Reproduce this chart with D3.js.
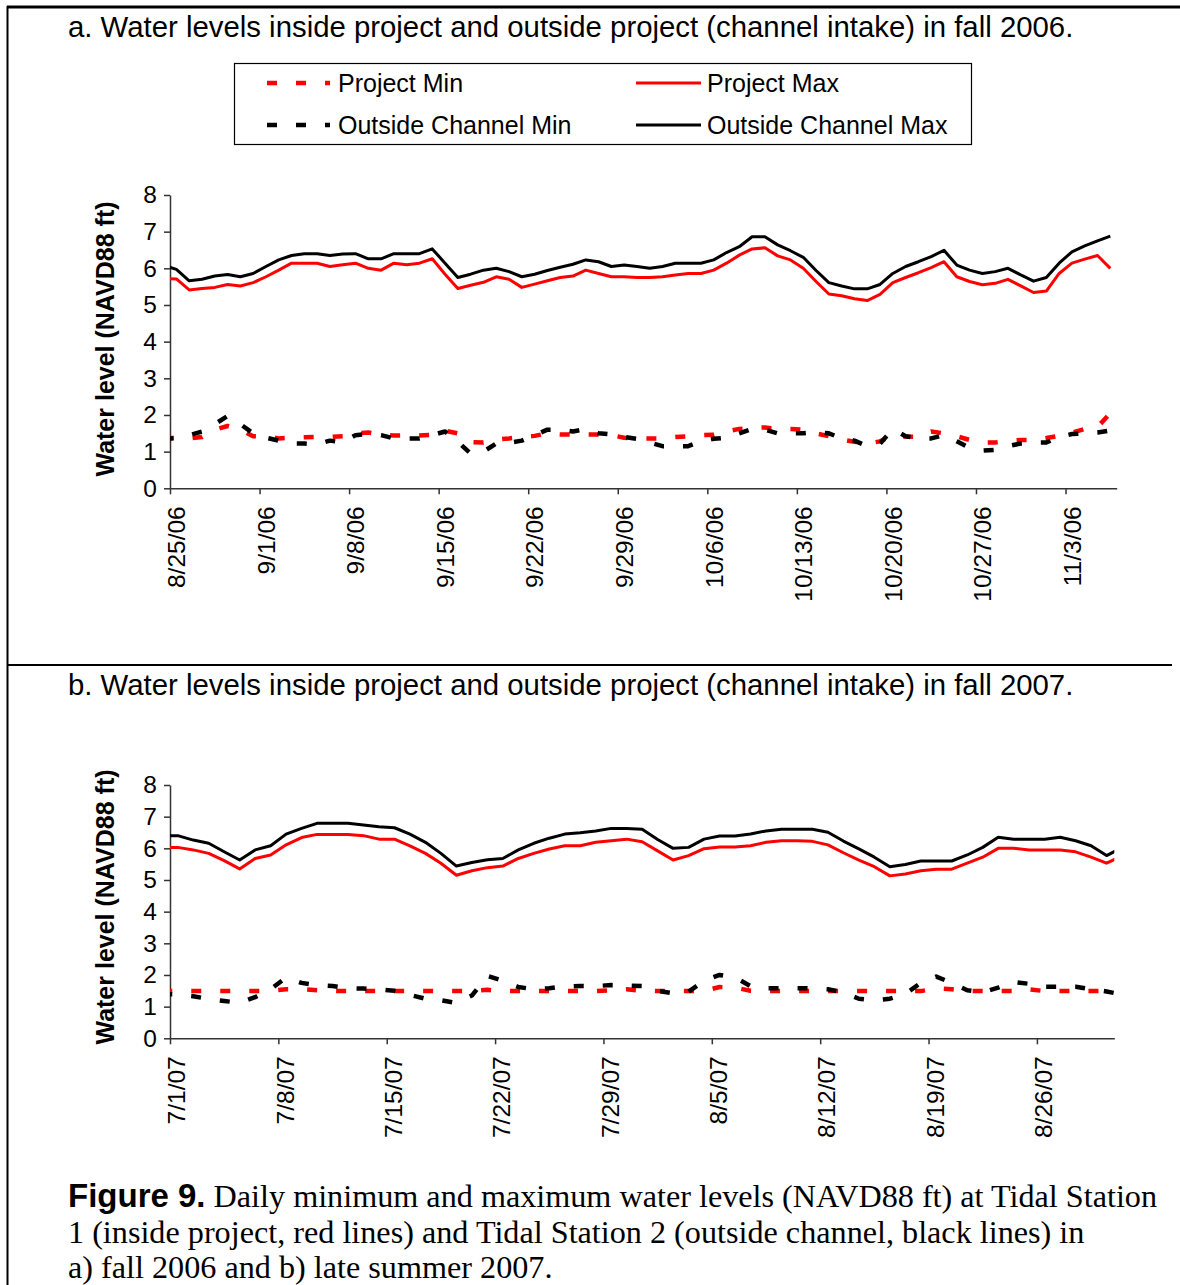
<!DOCTYPE html>
<html><head><meta charset="utf-8">
<script src="https://cdn.jsdelivr.net/npm/d3@7"></script>
<style>body{margin:0;background:#fff} svg{display:block}</style>
</head><body>
<svg id="c" width="1180" height="1285"></svg>
<script>
// ---------------- DATA ----------------
// Panel a: fall 2006 — first value is 8/24/06 (clipped at axis start), then daily to 11/6/06
const startA = "2006-08-24";
const projectMinA = [1.37,1.37,1.36,1.40,1.60,1.70,1.60,1.42,1.42,1.36,1.38,1.39,1.40,1.40,1.42,1.50,1.52,1.46,1.44,1.44,1.44,1.46,1.57,1.50,1.26,1.25,
  1.33,1.36,1.40,1.43,1.50,1.47,1.47,1.47,1.47,1.45,1.38,1.36,1.36,1.36,1.40,1.42,1.45,1.46,1.55,1.62,1.65,1.66,1.62,1.62,1.60,
  1.50,1.42,1.33,1.27,1.22,1.28,1.45,1.41,1.40,1.55,1.50,1.42,1.32,1.25,1.25,1.30,1.32,1.32,1.37,1.43,1.52,1.62,1.67,2.05];
const projectMaxA = [5.72,5.71,5.41,5.45,5.48,5.56,5.52,5.61,5.77,5.95,6.14,6.14,6.14,6.05,6.10,6.14,6.00,5.95,6.14,6.10,6.14,6.26,5.84,5.45,5.54,5.62,
  5.77,5.70,5.48,5.57,5.66,5.75,5.79,5.95,5.86,5.77,5.77,5.75,5.75,5.77,5.82,5.86,5.86,5.95,6.14,6.36,6.53,6.56,6.34,6.23,6.00,
  5.64,5.30,5.25,5.17,5.12,5.29,5.61,5.75,5.88,6.02,6.18,5.77,5.64,5.55,5.59,5.70,5.52,5.34,5.38,5.86,6.14,6.25,6.35,6.00];
const outsideMinA = [1.35,1.37,1.45,1.55,1.75,1.97,1.75,1.50,1.38,1.30,1.22,1.22,1.20,1.30,1.25,1.45,1.48,1.45,1.36,1.36,1.36,1.45,1.55,1.27,0.95,1.00,
  1.22,1.24,1.30,1.45,1.60,1.60,1.55,1.62,1.50,1.47,1.40,1.35,1.25,1.15,1.15,1.15,1.28,1.35,1.38,1.50,1.62,1.60,1.50,1.50,1.50,
  1.53,1.50,1.36,1.30,1.15,1.22,1.62,1.42,1.36,1.36,1.45,1.28,1.10,1.03,1.05,1.15,1.22,1.25,1.25,1.40,1.48,1.50,1.52,1.58];
const outsideMaxA = [6.08,5.97,5.66,5.70,5.79,5.83,5.77,5.86,6.05,6.23,6.35,6.40,6.40,6.35,6.39,6.40,6.26,6.26,6.40,6.40,6.40,6.53,6.14,5.75,5.84,5.95,
  6.00,5.91,5.77,5.84,5.94,6.03,6.11,6.23,6.18,6.05,6.09,6.05,6.00,6.05,6.14,6.14,6.14,6.23,6.43,6.59,6.86,6.86,6.64,6.48,6.30,
  5.94,5.61,5.52,5.44,5.44,5.56,5.86,6.05,6.18,6.32,6.49,6.09,5.95,5.86,5.91,6.00,5.82,5.65,5.75,6.14,6.45,6.61,6.75,6.88];

// Panel b: late summer 2007 — first value is 6/30/07 (clipped), then daily to 8/31/07 (clipped)
const startB = "2007-06-30";
const projectMinB = [1.49,1.49,1.49,1.49,1.49,1.49,1.49,1.50,1.55,1.55,1.52,1.50,1.49,1.49,1.49,1.49,1.49,1.49,1.49,1.49,1.49,
  1.53,1.49,1.49,1.49,1.49,1.49,1.49,1.49,1.52,1.55,1.50,1.49,1.49,1.49,1.50,1.62,1.60,1.50,1.49,1.49,1.49,
  1.49,1.49,1.49,1.49,1.49,1.49,1.49,1.49,1.58,1.55,1.49,1.49,1.49,1.49,1.55,1.49,1.49,1.49,1.49,1.49,1.49];
const projectMaxB = [6.03,6.03,5.95,5.84,5.61,5.35,5.68,5.79,6.11,6.34,6.44,6.44,6.44,6.40,6.29,6.29,6.08,5.84,5.53,5.15,5.29,
  5.39,5.44,5.68,5.84,5.98,6.08,6.08,6.19,6.24,6.29,6.21,5.92,5.63,5.77,5.99,6.04,6.04,6.08,6.19,6.24,6.24,
  6.22,6.11,5.86,5.63,5.42,5.13,5.19,5.29,5.34,5.34,5.53,5.72,6.00,6.00,5.95,5.95,5.95,5.89,5.72,5.53,5.76];
const outsideMinB = [1.39,1.39,1.33,1.24,1.18,1.12,1.30,1.55,1.92,1.75,1.68,1.65,1.58,1.57,1.55,1.50,1.37,1.25,1.20,1.12,1.35,
  1.97,1.82,1.62,1.55,1.58,1.64,1.65,1.65,1.68,1.67,1.65,1.50,1.42,1.47,1.82,2.00,1.92,1.65,1.58,1.58,1.58,
  1.58,1.55,1.45,1.25,1.20,1.25,1.40,1.75,1.95,1.75,1.52,1.45,1.60,1.78,1.72,1.63,1.63,1.63,1.55,1.48,1.38];
const outsideMaxB = [6.40,6.40,6.26,6.16,5.89,5.63,5.95,6.08,6.45,6.63,6.79,6.79,6.79,6.74,6.68,6.65,6.45,6.19,5.84,5.44,5.55,
  5.64,5.68,5.95,6.16,6.32,6.45,6.49,6.55,6.63,6.63,6.60,6.28,6.00,6.03,6.29,6.39,6.39,6.45,6.55,6.60,6.60,
  6.60,6.51,6.23,5.98,5.72,5.42,5.49,5.60,5.60,5.60,5.79,6.03,6.35,6.29,6.29,6.29,6.35,6.24,6.08,5.77,6.02];

const yTicks = [0,1,2,3,4,5,6,7,8];
const seriesNames = ["Project Min","Project Max","Outside Channel Min","Outside Channel Max"];
const titleA = "a. Water levels inside project and outside project (channel intake) in fall 2006.";
const titleB = "b. Water levels inside project and outside project (channel intake) in fall 2007.";
const yLabel = "Water level (NAVD88 ft)";
const captionBold = "Figure 9.";
const captionLines = [
  "Daily minimum and maximum water levels (NAVD88 ft) at Tidal Station",
  "1 (inside project, red lines) and Tidal Station 2 (outside channel, black lines) in",
  "a) fall 2006 and b) late summer 2007."
];

// ---------------- STYLE ----------------
const SANS = "'Liberation Sans', Arial, sans-serif";
const SERIF = "'Liberation Serif', 'Times New Roman', serif";
const styles = [
  {color:"#ff0000", width:4.5, dash:"10,19"},
  {color:"#ff0000", width:3, dash:null},
  {color:"#000000", width:4.5, dash:"10,19"},
  {color:"#000000", width:3, dash:null}
];

const svg = d3.select("#c");
const parse = d3.utcParse("%Y-%m-%d");
const fmt = d3.utcFormat("%-m/%-d/%y");

// frame lines
svg.append("line").attr("x1",7).attr("x2",1180).attr("y1",7).attr("y2",7).attr("stroke","#000").attr("stroke-width",3);
svg.append("line").attr("x1",7.5).attr("x2",7.5).attr("y1",6).attr("y2",1285).attr("stroke","#000").attr("stroke-width",2);
svg.append("line").attr("x1",7).attr("x2",1172).attr("y1",665).attr("y2",665).attr("stroke","#000").attr("stroke-width",2);

// titles
svg.append("text").attr("x",68).attr("y",37).attr("font-family",SANS).attr("font-size",29.35).text(titleA);
svg.append("text").attr("x",68).attr("y",695).attr("font-family",SANS).attr("font-size",29.35).text(titleB);

// legend
const lg = svg.append("g");
lg.append("rect").attr("x",234.5).attr("y",63.5).attr("width",737).attr("height",81)
  .attr("fill","#fff").attr("stroke","#000").attr("stroke-width",1.2);
const legPos = [[267,83],[636,83],[267,125],[636,125]];
seriesNames.forEach((n,i)=>{
  const [lx,ly] = legPos[i];
  const s = styles[i];
  lg.append("line").attr("x1",lx).attr("x2",lx+(s.dash?63:65)).attr("y1",ly).attr("y2",ly)
    .attr("stroke",s.color).attr("stroke-width",s.dash?4.5:3).attr("stroke-dasharray",s.dash);
  lg.append("text").attr("x",lx+71).attr("y",ly+9).attr("font-family",SANS).attr("font-size",25).text(n);
});

function drawChart(cfg){
  const g = svg.append("g");
  const x = d3.scaleUtc().domain([parse(cfg.x0), parse(cfg.x1)]).range([170, cfg.xr]);
  const y = d3.scaleLinear().domain([0,8]).range([cfg.yb, cfg.yt]);
  const clipId = "clip"+cfg.id;
  g.append("clipPath").attr("id",clipId).append("rect")
    .attr("x",170).attr("y",cfg.yt-20).attr("width",cfg.xr-170).attr("height",cfg.yb-cfg.yt+40);

  // y axis
  const ya = g.append("g").attr("transform",`translate(170,0)`)
    .call(d3.axisLeft(y).tickValues(yTicks).tickFormat(d3.format("d")).tickSize(6).tickPadding(7).tickSizeOuter(0));
  ya.selectAll("text").attr("font-family",SANS).attr("font-size",24.5).attr("fill","#000");
  ya.selectAll("line,path").attr("stroke","#333").attr("stroke-width",1.5);

  // x axis
  const tv = d3.utcDay.range(parse(cfg.x0), d3.utcDay.offset(parse(cfg.x1),1), 7);
  const xa = g.append("g").attr("transform",`translate(0,${cfg.yb})`)
    .call(d3.axisBottom(x).tickValues(tv).tickFormat(fmt).tickSize(6).tickSizeOuter(0));
  xa.selectAll("line,path").attr("stroke","#333").attr("stroke-width",1.5);
  xa.selectAll("text").attr("font-family",SANS).attr("font-size",24.5).attr("fill","#000")
    .attr("transform","rotate(-90)").attr("text-anchor","end")
    .attr("x",-18).attr("y",0).attr("dy","0.6em");

  // y label
  g.append("text").attr("transform",`translate(114,${cfg.labelY}) rotate(-90)`)
    .attr("text-anchor","middle").attr("font-family",SANS).attr("font-weight","bold")
    .attr("font-size",25).text(yLabel);

  // series
  const start = parse(cfg.start);
  const line = d3.line()
    .x((d,i)=> x(d3.utcHour.offset(d3.utcDay.offset(start,i),12)))
    .y(d=> y(d));
  const lines = g.append("g").attr("clip-path",`url(#${clipId})`);
  cfg.series.forEach((arr,k)=>{
    const s = styles[k];
    lines.append("path").datum(arr).attr("d",line).attr("fill","none")
      .attr("stroke",s.color).attr("stroke-width",s.width)
      .attr("stroke-dasharray",s.dash).attr("stroke-linejoin","round");
  });
}

drawChart({id:"A", x0:"2006-08-25", x1:"2006-11-07", xr:1116.7, yb:488.3, yt:195, labelY:339,
  start:startA, series:[projectMinA,projectMaxA,outsideMinA,outsideMaxA]});
drawChart({id:"B", x0:"2007-07-01", x1:"2007-08-31", xr:1114.3, yb:1038.3, yt:785, labelY:907,
  start:startB, series:[projectMinB,projectMaxB,outsideMinB,outsideMaxB]});

// caption
const cap = svg.append("text").attr("x",68).attr("y",1207).attr("font-family",SERIF).attr("font-size",32.2);
cap.append("tspan").attr("font-family",SANS).attr("font-weight","bold").attr("font-size",33).text(captionBold);
cap.append("tspan").text(" " + captionLines[0]);
captionLines.slice(1).forEach((t,i)=>{
  svg.append("text").attr("x",68).attr("y",1242.5 + i*35.5).attr("font-family",SERIF).attr("font-size",32.2).text(t);
});
</script>
</body></html>
